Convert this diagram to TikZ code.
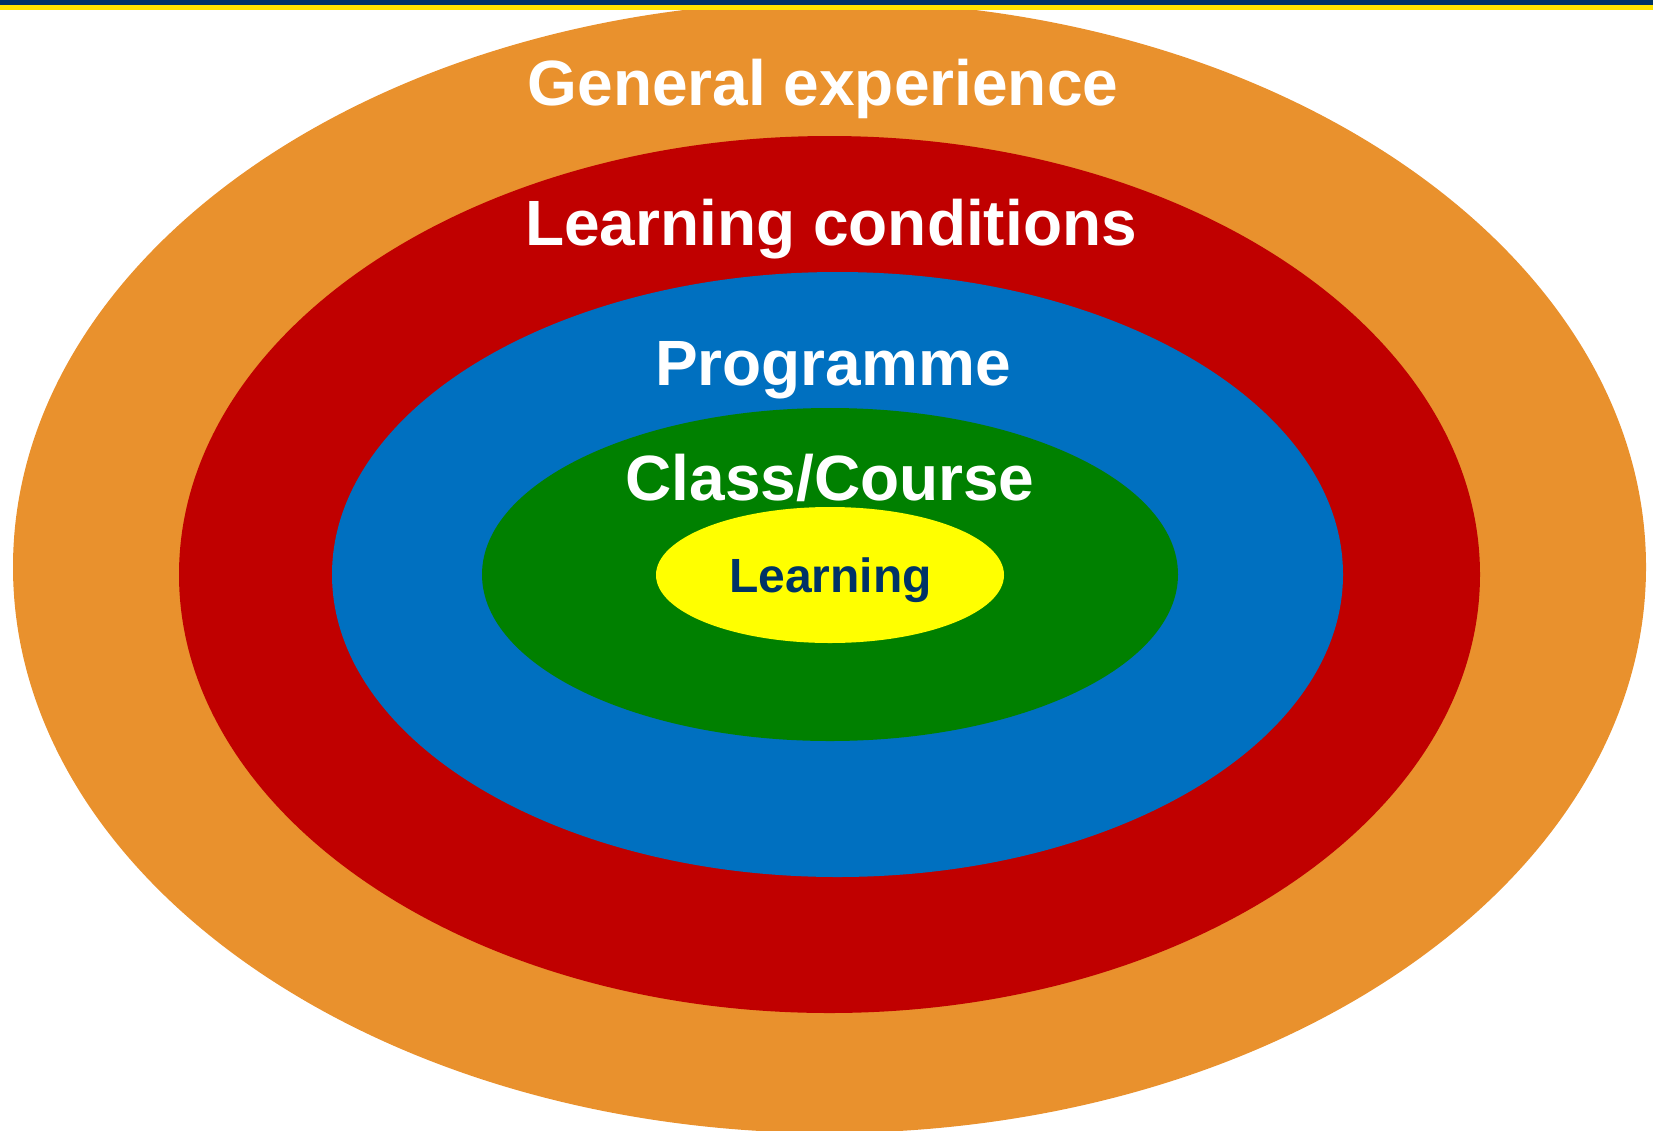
\documentclass[tikz,border=0pt]{standalone}
\usepackage{fontspec}
\setmainfont{Liberation Sans}
\definecolor{orangeC}{RGB}{233,145,45}
\definecolor{redC}{RGB}{192,0,0}
\definecolor{blueC}{RGB}{0,112,192}
\definecolor{greenC}{RGB}{0,128,0}
\definecolor{yellowC}{RGB}{255,255,0}
\definecolor{navyC}{RGB}{0,51,102}
\definecolor{barYellow}{RGB}{255,229,0}
\tikzset{
  biglbl/.style={text=white, inner sep=0pt, anchor=base, font=\bfseries\fontsize{64}{70}\selectfont},
  smalllbl/.style={text=navyC, inner sep=0pt, anchor=base, font=\bfseries\fontsize{48}{54}\selectfont}
}
\begin{document}
\begin{tikzpicture}[x=1pt,y=-1pt]
\useasboundingbox (0,0) rectangle (1653,1130);
\clip (0,0) rectangle (1653,1130);
\fill[orangeC] (829.5,567) ellipse [x radius=816.5pt, y radius=566pt];
\fill[redC] (829.5,574.5) ellipse [x radius=650.5pt, y radius=438.5pt];
\fill[blueC] (837.5,574.5) ellipse [x radius=505.5pt, y radius=302.5pt];
\fill[greenC] (830,574.5) ellipse [x radius=348pt, y radius=166.5pt];
\fill[yellowC] (830,575) ellipse [x radius=174pt, y radius=68pt];
\fill[navyC] (0,0) rectangle (1653,5);
\fill[barYellow] (0,5) rectangle (1653,9.5);
\node[biglbl] (ge) at (823,105) {General experience};
\node[biglbl] (lc) at (831,245) {Learning conditions};
\node[biglbl] (pr) at (833,385) {Programme};
\node[biglbl] (cc) at (830,500) {Class/Course};
\node[smalllbl] (le) at (830.5,592.7) {Learning};
\end{tikzpicture}
\end{document}
